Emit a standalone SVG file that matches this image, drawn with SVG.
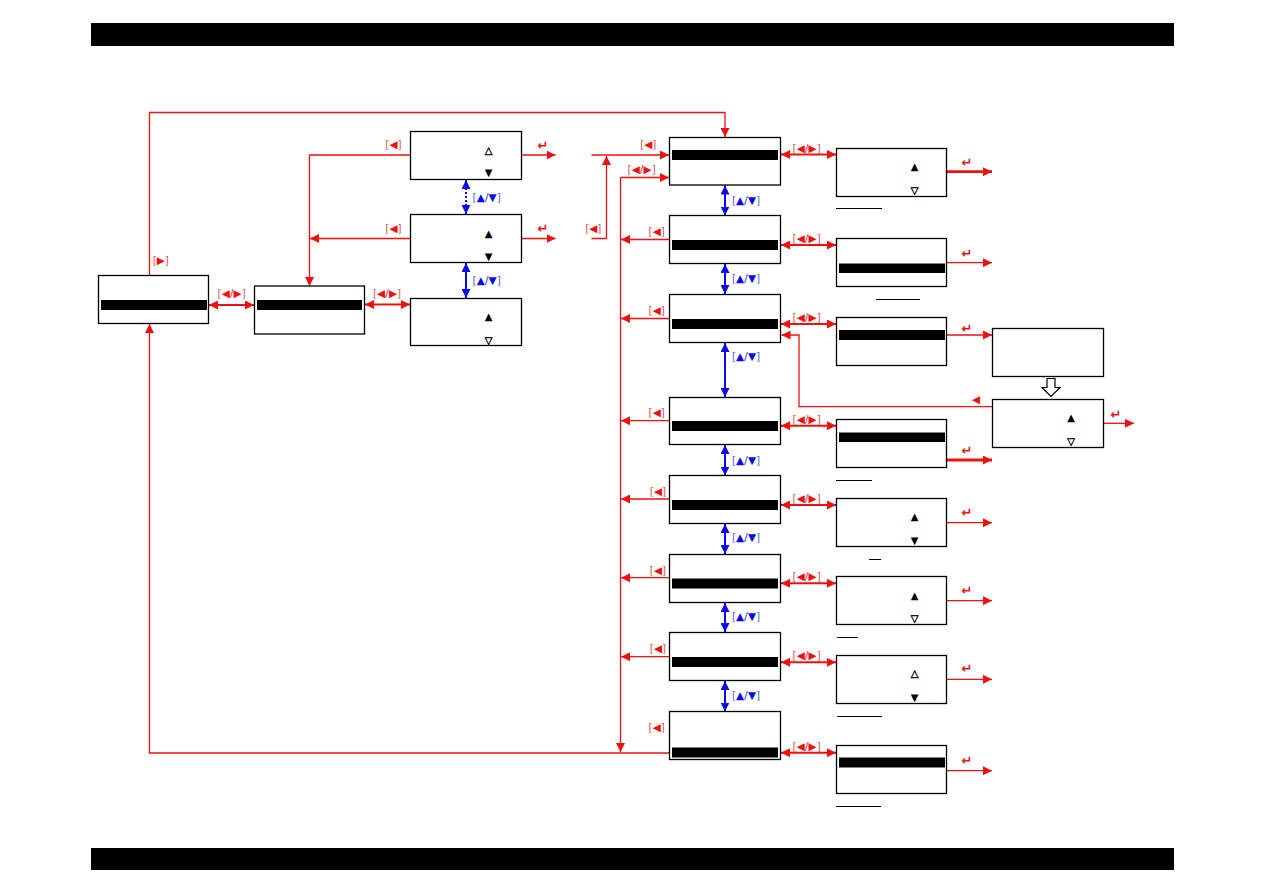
<svg xmlns="http://www.w3.org/2000/svg" width="1263" height="893" viewBox="0 0 1263 893">
<style>
.box{fill:#fff;stroke:#000;stroke-width:1.3}
.bar{fill:#000}
.r{fill:none;stroke:#f01010;stroke-width:1.3}
.r2{fill:none;stroke:#f01010;stroke-width:2}
.r3{fill:none;stroke:#f01010;stroke-width:2.8}
.b{fill:none;stroke:#0a0aee;stroke-width:2}
.ul{stroke:#000;stroke-width:1}
.lb{font-family:"DejaVu Sans",sans-serif;font-size:10.5px;text-anchor:middle}
.lr{fill:#e85050}
.lr tspan{fill:#f01010}
.lr tspan.s{fill:#e85050;font-weight:bold}
.lbb{fill:#5a5af0}
.lbb tspan{fill:#0a0aee}
.lbb tspan.s{fill:#5a5af0;font-weight:bold}
.ent{font-family:"DejaVu Sans",sans-serif;font-size:13px;font-weight:bold;fill:#f01010;text-anchor:middle}
.tri{font-family:"DejaVu Sans",sans-serif;font-size:10px;fill:#000;text-anchor:middle}
.ho{stroke:#000;stroke-width:0.4}
</style>
<defs>
<marker id="ar" markerUnits="userSpaceOnUse" markerWidth="10" markerHeight="9" refX="9" refY="4.5" orient="auto-start-reverse"><path d="M0,0 L9,4.5 L0,9 z" fill="#f01010"/></marker>
<marker id="ab" markerUnits="userSpaceOnUse" markerWidth="10" markerHeight="9" refX="9" refY="4.5" orient="auto-start-reverse"><path d="M0,0 L9,4.5 L0,9 z" fill="#0a0aee"/></marker>
</defs>
<rect x="91" y="23" width="1083" height="23" fill="#000"/>
<rect x="91" y="848" width="1083" height="22" fill="#000"/>

<g id="connectors">
<path class="r" d="M149.5,275 V112.5 H725 V137" marker-end="url(#ar)"/>
<path class="r" d="M669,753 H149.5 V324" marker-end="url(#ar)"/>
<path class="r2" d="M209,305 H254" marker-start="url(#ar)" marker-end="url(#ar)"/>
<path class="r2" d="M365,304.5 H410" marker-start="url(#ar)" marker-end="url(#ar)"/>
<path class="r" d="M410,155 H309.5 V286" marker-end="url(#ar)"/>
<path class="r" d="M410,238.5 H310" marker-end="url(#ar)"/>
<path class="r" d="M522,155 H555.5" marker-end="url(#ar)"/>
<path class="r" d="M522,238.5 H555.5" marker-end="url(#ar)"/>
<path class="r" d="M591.5,155 H669" marker-end="url(#ar)"/>
<path class="r" d="M591.5,238.5 H606.5 V156" marker-end="url(#ar)"/>
<path class="r" d="M620.5,177.5 H669" marker-end="url(#ar)"/>
<path class="r" d="M620.5,177.5 V752" marker-end="url(#ar)"/>
<path class="r" d="M669,239.5 H621" marker-end="url(#ar)"/>
<path class="r" d="M669,318.5 H621" marker-end="url(#ar)"/>
<path class="r" d="M669,420.7 H621" marker-end="url(#ar)"/>
<path class="r" d="M669,499 H621" marker-end="url(#ar)"/>
<path class="r" d="M669,577.7 H621" marker-end="url(#ar)"/>
<path class="r" d="M669,656.7 H621" marker-end="url(#ar)"/>
<path class="r2" d="M781,154.5 H836" marker-start="url(#ar)" marker-end="url(#ar)"/>
<path class="r2" d="M781,245 H836" marker-start="url(#ar)" marker-end="url(#ar)"/>
<path class="r2" d="M781,324 H836" marker-start="url(#ar)" marker-end="url(#ar)"/>
<path class="r2" d="M781,425.7 H836" marker-start="url(#ar)" marker-end="url(#ar)"/>
<path class="r2" d="M781,505 H836" marker-start="url(#ar)" marker-end="url(#ar)"/>
<path class="r2" d="M781,583.3 H836" marker-start="url(#ar)" marker-end="url(#ar)"/>
<path class="r2" d="M781,662.3 H836" marker-start="url(#ar)" marker-end="url(#ar)"/>
<path class="r2" d="M781,752.7 H836" marker-start="url(#ar)" marker-end="url(#ar)"/>
<path class="r" d="M992,406.7 H799 V335 H781.5" marker-end="url(#ar)"/>
<path class="r3" d="M947,171.7 H992" marker-end="url(#ar)"/>
<path class="r" d="M947,262.7 H992" marker-end="url(#ar)"/>
<path class="r" d="M947,335 H992" marker-end="url(#ar)"/>
<path class="r3" d="M947,460 H992" marker-end="url(#ar)"/>
<path class="r" d="M947,522.7 H992" marker-end="url(#ar)"/>
<path class="r" d="M947,600.7 H992" marker-end="url(#ar)"/>
<path class="r" d="M947,679.3 H992" marker-end="url(#ar)"/>
<path class="r" d="M947,770.7 H992" marker-end="url(#ar)"/>
<path class="r" d="M1104,423.3 H1134" marker-end="url(#ar)"/>
<path class="b" d="M466,180 V214" stroke-width="1.3" stroke-dasharray="2,2" marker-start="url(#ab)" marker-end="url(#ab)"/>
<path class="b" d="M466,263 V298" marker-start="url(#ab)" marker-end="url(#ab)"/>
<path class="b" d="M725,185.5 V215.5" marker-start="url(#ab)" marker-end="url(#ab)"/>
<path class="b" d="M725,264 V294" marker-start="url(#ab)" marker-end="url(#ab)"/>
<path class="b" d="M725,343 V397" marker-start="url(#ab)" marker-end="url(#ab)"/>
<path class="b" d="M725,445 V475.5" marker-start="url(#ab)" marker-end="url(#ab)"/>
<path class="b" d="M725,524 V554" marker-start="url(#ab)" marker-end="url(#ab)"/>
<path class="b" d="M725,603 V632" marker-start="url(#ab)" marker-end="url(#ab)"/>
<path class="b" d="M725,681 V711.5" marker-start="url(#ab)" marker-end="url(#ab)"/>
<path d="M1047,378.5 H1055 V387.5 H1060 L1051,396.5 L1042,387.5 H1047 Z" fill="#fff" stroke="#000" stroke-width="1.2"/>
</g>

<g id="labels">
<text class="lb lr" x="160.8" y="264">[<tspan>▶</tspan>]</text>
<text class="lb lr" x="231.7" y="296.7">[<tspan>◀</tspan><tspan class="s">/</tspan><tspan>▶</tspan>]</text>
<text class="lb lr" x="387" y="296.7">[<tspan>◀</tspan><tspan class="s">/</tspan><tspan>▶</tspan>]</text>
<text class="lb lr" x="393.5" y="148.3">[<tspan>◀</tspan>]</text>
<text class="lb lr" x="393.5" y="232">[<tspan>◀</tspan>]</text>
<text class="lb lbb" x="486.7" y="200.7">[<tspan>▲</tspan><tspan class="s">/</tspan><tspan>▼</tspan>]</text>
<text class="lb lbb" x="486.7" y="284">[<tspan>▲</tspan><tspan class="s">/</tspan><tspan>▼</tspan>]</text>
<text class="ent" x="543" y="150">↵</text>
<text class="ent" x="543" y="233.3">↵</text>
<text class="lb lr" x="593.3" y="231.7">[<tspan>◀</tspan>]</text>
<text class="lb lr" x="648.3" y="148">[<tspan>◀</tspan>]</text>
<text class="lb lr" x="641.7" y="173.3">[<tspan>◀</tspan><tspan class="s">/</tspan><tspan>▶</tspan>]</text>
<text class="lb lr" x="656.7" y="235">[<tspan>◀</tspan>]</text>
<text class="lb lr" x="656.7" y="314">[<tspan>◀</tspan>]</text>
<text class="lb lr" x="656.7" y="416.3">[<tspan>◀</tspan>]</text>
<text class="lb lr" x="658" y="495">[<tspan>◀</tspan>]</text>
<text class="lb lr" x="658" y="573.5">[<tspan>◀</tspan>]</text>
<text class="lb lr" x="658" y="652">[<tspan>◀</tspan>]</text>
<text class="lb lr" x="656.7" y="730.7">[<tspan>◀</tspan>]</text>
<text class="lb lr" x="806.7" y="151.7">[<tspan>◀</tspan><tspan class="s">/</tspan><tspan>▶</tspan>]</text>
<text class="lb lr" x="806.7" y="242">[<tspan>◀</tspan><tspan class="s">/</tspan><tspan>▶</tspan>]</text>
<text class="lb lr" x="806.7" y="321">[<tspan>◀</tspan><tspan class="s">/</tspan><tspan>▶</tspan>]</text>
<text class="lb lr" x="806.7" y="422.5">[<tspan>◀</tspan><tspan class="s">/</tspan><tspan>▶</tspan>]</text>
<text class="lb lr" x="806.7" y="502">[<tspan>◀</tspan><tspan class="s">/</tspan><tspan>▶</tspan>]</text>
<text class="lb lr" x="806.7" y="580.3">[<tspan>◀</tspan><tspan class="s">/</tspan><tspan>▶</tspan>]</text>
<text class="lb lr" x="806.7" y="659">[<tspan>◀</tspan><tspan class="s">/</tspan><tspan>▶</tspan>]</text>
<text class="lb lr" x="806.7" y="749.5">[<tspan>◀</tspan><tspan class="s">/</tspan><tspan>▶</tspan>]</text>
<text class="lb lbb" x="746" y="204">[<tspan>▲</tspan><tspan class="s">/</tspan><tspan>▼</tspan>]</text>
<text class="lb lbb" x="746" y="282">[<tspan>▲</tspan><tspan class="s">/</tspan><tspan>▼</tspan>]</text>
<text class="lb lbb" x="746" y="360">[<tspan>▲</tspan><tspan class="s">/</tspan><tspan>▼</tspan>]</text>
<text class="lb lbb" x="746" y="464">[<tspan>▲</tspan><tspan class="s">/</tspan><tspan>▼</tspan>]</text>
<text class="lb lbb" x="746" y="541">[<tspan>▲</tspan><tspan class="s">/</tspan><tspan>▼</tspan>]</text>
<text class="lb lbb" x="746" y="620">[<tspan>▲</tspan><tspan class="s">/</tspan><tspan>▼</tspan>]</text>
<text class="lb lbb" x="746" y="699">[<tspan>▲</tspan><tspan class="s">/</tspan><tspan>▼</tspan>]</text>
<text class="ent" x="967" y="167">↵</text>
<text class="ent" x="967" y="258">↵</text>
<text class="ent" x="967" y="333">↵</text>
<text class="ent" x="1116" y="418.5">↵</text>
<text class="ent" x="967" y="455">↵</text>
<text class="ent" x="967" y="517">↵</text>
<text class="ent" x="967" y="595">↵</text>
<text class="ent" x="967" y="673">↵</text>
<text class="ent" x="967" y="765">↵</text>
<text class="lb" x="976" y="403" fill="#f01010">◀</text>
</g>

<g id="nodeA"><rect class="box" x="98.5" y="275.5" width="110" height="48"/><rect class="bar" x="101" y="300" width="106" height="10"/></g>
<g id="nodeB"><rect class="box" x="254.5" y="286" width="110" height="48"/><rect class="bar" x="257" y="300" width="105" height="10"/></g>
<g id="nodeC1"><rect class="box" x="410.5" y="131.5" width="111" height="48"/><text class="tri ho" x="488.5" y="153.8">△</text><text class="tri" x="488.5" y="176.3">▼</text></g>
<g id="nodeC2"><rect class="box" x="410.5" y="214.5" width="111" height="48"/><text class="tri" x="488.5" y="237.3">▲</text><text class="tri" x="488.5" y="259.8">▼</text></g>
<g id="nodeC3"><rect class="box" x="410.5" y="298.5" width="111" height="47"/><text class="tri" x="488.5" y="320.3">▲</text><text class="tri ho" x="488.5" y="343.8">▽</text></g>

<g id="nodeD1"><rect class="box" x="669.5" y="137.5" width="111" height="47.5"/><rect class="bar" x="672" y="150" width="106" height="10"/></g>
<g id="nodeD2"><rect class="box" x="669.5" y="215.5" width="111" height="48"/><rect class="bar" x="672" y="240" width="106" height="10"/></g>
<g id="nodeD3"><rect class="box" x="669.5" y="294.5" width="111" height="48"/><rect class="bar" x="672" y="319" width="106" height="10"/></g>
<g id="nodeD4"><rect class="box" x="669.5" y="397.5" width="111" height="47"/><rect class="bar" x="672" y="421" width="106" height="10"/></g>
<g id="nodeD5"><rect class="box" x="669.5" y="475.5" width="111" height="48"/><rect class="bar" x="672" y="500" width="106" height="10"/></g>
<g id="nodeD6"><rect class="box" x="669.5" y="554.5" width="111" height="48"/><rect class="bar" x="672" y="578.5" width="106" height="10"/></g>
<g id="nodeD7"><rect class="box" x="669.5" y="632.5" width="111" height="48"/><rect class="bar" x="672" y="657" width="106" height="10"/></g>
<g id="nodeD8"><rect class="box" x="669.5" y="711.5" width="111" height="48"/><rect class="bar" x="672" y="747.5" width="106" height="10"/></g>

<g id="nodeE1"><rect class="box" x="836.5" y="148.5" width="110" height="48"/><text class="tri" x="914.5" y="169.8">▲</text><text class="tri ho" x="914.5" y="193.8">▽</text><line class="ul" x1="836" y1="208.5" x2="882" y2="208.5"/></g>
<g id="nodeE2"><rect class="box" x="836.5" y="238.5" width="110" height="48"/><rect class="bar" x="839" y="263.5" width="106" height="9.5"/><line class="ul" x1="876" y1="299.5" x2="920" y2="299.5"/></g>
<g id="nodeE3"><rect class="box" x="836.5" y="317.5" width="110" height="48"/><rect class="bar" x="839" y="330" width="106" height="10"/></g>
<g id="nodeE4"><rect class="box" x="836.5" y="419.5" width="110" height="48"/><rect class="bar" x="839" y="432.5" width="106" height="9.5"/><line class="ul" x1="836" y1="480.5" x2="872" y2="480.5"/></g>
<g id="nodeE5"><rect class="box" x="836.5" y="498.5" width="110" height="48"/><text class="tri" x="914.5" y="520.3">▲</text><text class="tri" x="914.5" y="543.8">▼</text><line class="ul" x1="869" y1="559.5" x2="881" y2="559.5"/></g>
<g id="nodeE6"><rect class="box" x="836.5" y="576.5" width="110" height="48"/><text class="tri" x="914.5" y="598.8">▲</text><text class="tri ho" x="914.5" y="621.8">▽</text><line class="ul" x1="837" y1="637.5" x2="858" y2="637.5"/></g>
<g id="nodeE7"><rect class="box" x="836.5" y="655.5" width="110" height="48"/><text class="tri ho" x="914.5" y="676.8">△</text><text class="tri" x="914.5" y="700.8">▼</text><line class="ul" x1="837" y1="716.5" x2="882" y2="716.5"/></g>
<g id="nodeE8"><rect class="box" x="836.5" y="745.5" width="110" height="48"/><rect class="bar" x="839" y="757.5" width="106" height="10"/><line class="ul" x1="836" y1="806.5" x2="881" y2="806.5"/></g>

<g id="nodeF1"><rect class="box" x="992.5" y="328.5" width="111" height="48"/></g>
<g id="nodeF2"><rect class="box" x="992.5" y="399.5" width="111" height="48"/><text class="tri" x="1071" y="421.3">▲</text><text class="tri ho" x="1071" y="445.3">▽</text></g>
</svg>
